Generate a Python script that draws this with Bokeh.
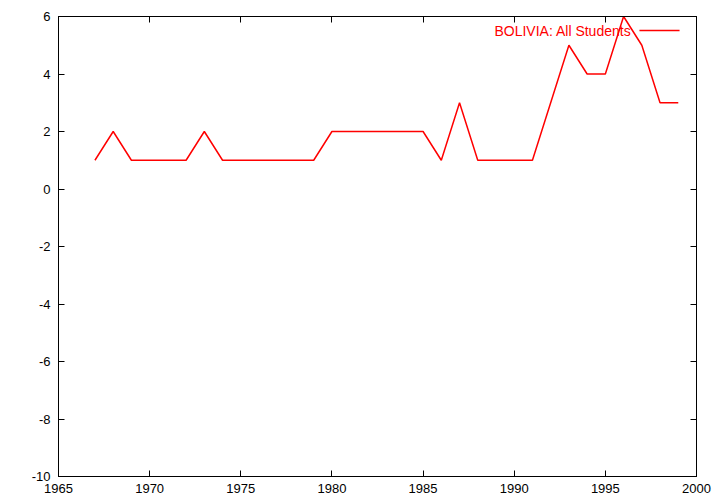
from bokeh.plotting import figure
from bokeh.models import (LinearAxis, FixedTicker, Label, Arrow, Range1d,
                          PrintfTickFormatter, CustomJSTickFormatter)
from bokeh.embed import file_html
from bokeh.resources import INLINE

years = list(range(1967, 2000))
values = [1, 2, 1, 1, 1, 1, 2, 1, 1, 1, 1, 1, 1, 2, 2, 2, 2, 2, 2, 1,
          3, 1, 1, 1, 1, 3, 5, 4, 4, 6, 5, 3, 3]
x_ticks = [1965, 1970, 1975, 1980, 1985, 1990, 1995, 2000]
y_ticks = [-10, -8, -6, -4, -2, 0, 2, 4, 6]
series_name = "BOLIVIA: All Students"

X0, X1 = 1965, 2000
Y0, Y1 = -10, 6
FONT = "Liberation Sans"

p = figure(width=716, height=500, output_backend="svg", toolbar_location=None,
           x_range=Range1d(X0, X1), y_range=Range1d(Y0, Y1),
           min_border_left=58, min_border_right=20, min_border_top=16,
           min_border_bottom=24)
p.xgrid.visible = False
p.ygrid.visible = False
p.outline_line_color = "black"
p.outline_line_width = 1
p.background_fill_color = "white"
p.border_fill_color = "white"


def style(ax, ticks, labels=True):
    ax.ticker = FixedTicker(ticks=ticks)
    ax.axis_line_color = "black"
    ax.major_tick_line_color = "black"
    ax.major_tick_in = 6
    ax.major_tick_out = 0
    ax.minor_tick_line_color = None
    if labels:
        ax.formatter = PrintfTickFormatter(format="%d")
        ax.major_label_text_font = FONT
        ax.major_label_text_font_size = "13px"
        ax.major_label_text_color = "black"
        ax.major_label_standoff = 8
    else:
        ax.formatter = CustomJSTickFormatter(code="return ''")
        ax.major_label_standoff = 0


style(p.xaxis[0], x_ticks)
style(p.yaxis[0], y_ticks)
p.xaxis[0].major_label_standoff = 7

top = LinearAxis()
style(top, x_ticks, labels=False)
p.add_layout(top, "above")
right = LinearAxis()
style(right, y_ticks, labels=False)
p.add_layout(right, "right")

p.line(years, values, line_color="#ff0000", line_width=1.5)

# gnuplot-style key: text then sample line, top right
key_y = Y1 - 0.49
p.add_layout(Label(x=X1 - 3.57, y=key_y, text=series_name, text_align="right",
                   text_baseline="middle", text_font=FONT, text_font_size="14px",
                   text_color="#ff0000"))
p.add_layout(Arrow(end=None, x_start=X1 - 3.13, y_start=key_y, x_end=X1 - 0.93,
                   y_end=key_y, line_color="#ff0000", line_width=1.5))

open("out.html", "w").write(file_html(p, INLINE))
